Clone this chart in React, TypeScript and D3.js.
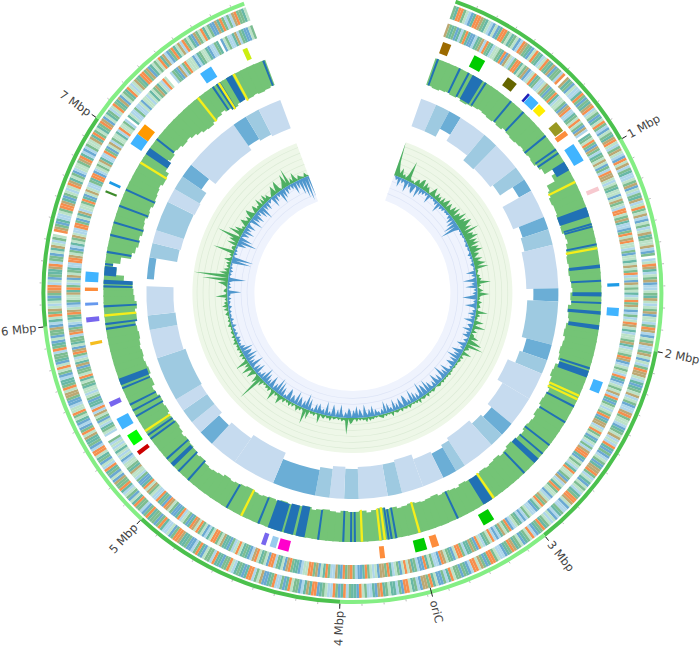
import React from 'react';
import * as d3 from 'd3';

const genomeLength = 7.862;
const ringBreaks = [0, 1, 2, 3, 4, 5, 6, 7, genomeLength];
const majorTicks = [1, 2, 3, 4, 5, 6, 7];
const oriC = 3.58;

// CDS rings, one letter per 12.5 kb window
const geneRingOuter = [
  'gtoogslbtooygtslbsbtoogstgsbloygtbsogtlsogtybgglo.ytgbslltogbgtyolsgbtsoglbsgtyo',
  'slgyslbosylgtllsgybslgtylsogsylbsglsytgssylbg.lsoytlsgybllsgtyslsgybsslgoylbsgyl',
  'lgysbslgoyysltbtgsylsgbllyogsslbtgsylslotbgblsgbtyyoglstbsgsltgooysbllgtlbslsgto',
  'gtblosgtbsgtyogtbllsgootbgysoolbtgbggsotlgbbstogyyblgtsoobglttsgtoybtllgsobttglo',
  'tbgollsgtbootytlbggsotbgllogtbbysglootbtgtlsoggbttolggsbtoglbbgttyoogbslltogbgg',
  'togblggotsbgsltoggybsbgtolsbgtsoolbgttysogblbtsgosslbbgyysogttlbgsosbtgglogtbsbg',
  'gybltsogyslstbgyoolsbgttyolggbstyslgs.oygbtllsgooytbgslsoytsgblssgyotlblgssytogs',
  'tgoybstglsogtybsgtoslsygtoogybtsgsotylbgotsylogstbygsotsgbbytoglglyoggts',
];

const geneRingInner = [
  'ygtgbtlgotbbltgylogtlssgtobyslgootsgyblsotgllsygbggotlssgbyolltgsosgbyl.tgsogbyg',
  'ltgsysbgloyyslsgtssbsygsloosgytllbgosyosslgbsstsysgolsbysgstlsogysblglsoystlssgy',
  'tlssgoyblsgslotblsgsylotbgslsgobtyylsogsbtslglyootbsgsltossgbylstogssblsygostbll',
  'sglbltgslbogsytlblosgtlsobgyttlgoosbtgsyobllgstobblgtysosbgsltogyybslsgotbblgoy',
  'gobtyllgotsbygoosslbttgoybstgloobsgtsoylbtgtsoslgbttysgoostlbsgosyotbgslotbbgsyo',
  'bgtollsgysotbbglssytgsslbslstslslg..lsgtlsbgsylolttbgslsstgstosggbytslgoybstgglo',
  'ygblstgoyslbgssytoglsbysgtllooysgbltsgyslloogbstylssgotbsysllgtooblsgsytllogbsy',
  'lgsstlossgl.tsllgllsbsslstsgytslos..lgtbylgosssbltgsstbllgt.bsglltylgtbbsg',
];

const geneColors: Record<string, string> = {
  o: '#f58f4e', g: '#7dbd91', t: '#68b8a6', b: '#6aa9d2',
  l: '#aed6ea', s: '#bce2c8', y: '#bca873',
};

// annotated regions: start, end, height, colour
const cogBlocks: [number, number, number, string][] = [
  [0.009, 0.055, 12, '#9c6a00'], [0.189, 0.253, 12.5, '#00cc00'], [0.4, 0.459, 10, '#666600'],
  [0.536, 0.55, 10, '#2020b8'], [0.553, 0.612, 10, '#40b4ff'], [0.619, 0.668, 9, '#ffee00'],
  [0.749, 0.808, 10, '#999922'], [0.814, 0.842, 13, '#fd8d3c'], [0.897, 1.0, 11, '#40b4ff'],
  [1.155, 1.179, 13, '#f7c9cf'], [1.679, 1.697, 12, '#1e9be6'], [1.811, 1.855, 12, '#40b4ff'],
  [2.214, 2.278, 10, '#40b4ff'], [3.155, 3.219, 12, '#00cc00'], [3.477, 3.516, 12, '#fd8d3c'],
  [3.543, 3.607, 12, '#00cc00'], [3.77, 3.797, 12, '#fd8d3c'], [4.285, 4.344, 11, '#ff00cc'],
  [4.354, 4.388, 11, '#99ccee'], [4.41, 4.435, 12, '#7766ee'], [5.239, 5.262, 13, '#cc0000'],
  [5.297, 5.361, 11, '#00ff00'], [5.4, 5.464, 13, '#40b4ff'], [5.534, 5.561, 12, '#7766ee'],
  [5.876, 5.893, 12, '#f5bd1f'], [5.999, 6.026, 13, '#7766ee'], [6.088, 6.103, 13, '#6699ee'],
  [6.165, 6.184, 13, '#fd8d3c'], [6.214, 6.268, 13, '#40b4ff'], [6.699, 6.711, 12, '#3d8b2b'],
  [6.749, 6.764, 12, '#1e9be6'], [6.988, 7.052, 13, '#40b4ff'], [7.052, 7.116, 13, '#ff9900'],
  [7.511, 7.58, 12, '#40b4ff'], [7.768, 7.795, 12, '#ccee11'],
];

// green track depth per window
const trackDepth = [
  28, 29, 28, 27, 28, 27, 29, 28, 27, 26, 27, 28, 27, 28, 26, 27, 28, 27, 26, 27,
  26, 27, 25, 23, 14, 18, 27, 29, 31, 30, 30, 31, 30, 31, 29, 28, 30, 31, 32, 31,
  32, 31, 30, 29, 31, 30, 33, 32, 31, 33, 34, 32, 33, 34, 33, 31, 34, 35, 33, 32,
  30, 31, 32, 30, 31, 29, 30, 31, 29, 30, 31, 32, 30, 29, 31, 30, 29, 30, 29, 28,
  29, 30, 28, 29, 30, 29, 31, 30, 29, 30, 31, 30, 29, 31, 30, 32, 31, 29, 31, 30,
  30, 31, 29, 30, 31, 30, 29, 31, 30, 28, 29, 30, 28, 29, 28, 27, 28, 29, 28, 27,
  26, 27, 25, 24, 23, 24, 26, 25, 27, 28, 29, 28, 30, 31, 30, 29, 31, 30, 31, 29,
  28, 31, 30, 32, 31, 30, 31, 30, 31, 32, 31, 30, 32, 31, 33, 31, 30, 29, 20, 12,
  8, 15, 25, 28, 30, 29, 31, 30, 29, 31, 30, 32, 31, 30, 29, 31, 30, 26, 22, 24,
  22, 23, 25, 24, 26, 28, 30, 31, 29, 28, 26, 28, 30, 28, 27, 29, 28, 29, 28, 27,
];

const blueLines = [
  0.015, 0.15, 0.206, 0.317, 0.494, 0.587, 0.771, 0.867, 0.892, 1.337, 1.351, 1.455, 1.663, 1.789,
  2.165, 2.398, 2.501, 2.658, 2.72, 2.87, 3.327, 3.693, 3.72, 3.737, 3.929, 3.951, 3.995, 4.138,
  4.489, 4.69, 4.958, 5.032, 5.128, 5.273, 5.3, 5.425, 5.462, 5.499, 5.602, 5.951, 5.978, 6.079,
  6.192, 6.319, 6.388, 6.486, 6.56, 6.659, 6.757, 7.093, 7.528, 7.555, 7.572, 7.85,
];

const blueRegions = [
  [0.231, 0.297], [0.951, 1.007], [1.236, 1.292], [1.57, 1.59], [1.728, 1.752], [1.835, 1.855],
  [1.915, 1.94], [2.18, 2.22], [2.755, 2.79], [3.103, 3.162], [4.216, 4.268], [4.283, 4.337],
  [4.349, 4.432], [5.07, 5.095], [5.62, 5.66], [6.205, 6.23], [6.253, 6.307], [6.988, 7.03],
  [7.615, 7.655],
];

const yellowLines = [
  1.081, 1.477, 2.332, 2.354, 3.093, 3.558, 3.759, 3.784, 3.889, 4.595, 5.327, 6.027, 6.931, 7.423,
  7.568, 7.666,
];

// windowed blocks: start, end, shade (0 light, 1 mid, 2 dark), height
const blueBlocks: [number, number, number, number][] = [
  [0, 0.11, 0, 29], [0.11, 0.21, 1, 29], [0.21, 0.3, 2, 20], [0.3, 0.5, 0, 27], [0.5, 0.61, 1, 33],
  [0.61, 0.81, 0, 32], [0.81, 0.91, 1, 29], [0.91, 1.0, 2, 14], [1.0, 1.2, 0, 33], [1.2, 1.29, 2, 27],
  [1.29, 1.4, 1, 29], [1.4, 1.7, 0, 32], [1.7, 1.79, 2, 25], [1.79, 2.09, 1, 31], [2.09, 2.2, 2, 26],
  [2.2, 2.3, 1, 29], [2.3, 2.49, 0, 37], [2.49, 2.7, 0, 31], [2.7, 2.8, 2, 26], [2.8, 2.9, 1, 29],
  [2.9, 3.13, 0, 33], [3.13, 3.2, 1, 30], [3.2, 3.3, 2, 27], [3.3, 3.45, 0, 29], [3.45, 3.6, 0, 34],
  [3.6, 3.7, 1, 32], [3.7, 3.9, 0, 32], [3.9, 4.0, 1, 30], [4.0, 4.1, 0, 32], [4.1, 4.2, 1, 29],
  [4.2, 4.5, 2, 26], [4.5, 4.8, 0, 33], [4.8, 5.0, 0, 29], [5.0, 5.11, 2, 25], [5.11, 5.2, 0, 29],
  [5.2, 5.3, 1, 29], [5.3, 5.39, 0, 29], [5.39, 5.7, 1, 30], [5.7, 5.9, 0, 28], [5.9, 6.0, 1, 28],
  [6.0, 6.2, 0, 27], [6.25, 6.4, 2, 7], [6.4, 6.5, 1, 28], [6.5, 6.59, 0, 29], [6.59, 6.8, 1, 29],
  [6.8, 6.9, 0, 30], [6.9, 7.0, 1, 29], [7.0, 7.1, 2, 23], [7.1, 7.5, 0, 31], [7.5, 7.6, 2, 26],
  [7.6, 7.7, 1, 28], [7.7, 7.862, 0, 30],
];
const blockShades = ['#c6dbef', '#9ecae1', '#6baed6'];

// GC skew above and below zero, base 36 digit per window
const skewUpRows = [
  'zf84a3526l42315738a2946315a428361837a295',
  '3a5c296e4b7fa6c3i4a8e3b6c2a6d3852a47c3e2',
  '3214253e241362c4231523412c25231a42d32614',
  '4a29f1i3521a3141321212112131212131232112',
  '3121412321513121241321412321512131432121',
  '3241523131412561h3241312315231431a214231',
  'a2g3142621415231524a3241c3152413172s4a21',
  '4a24c261e3141513142315231412312142131214',
  '2151624131c2143125a2q1z3a261425183142m14',
  '41b2a6o13f4a2415942617a4158243a172936214',
  '6a28c3147e3i162a415321521',
];
const skewDownRows = [
  '0142a1524c1638a13c1725141a1313251b152413',
  '2315281a2f3k6121312112123122124131214212',
  '1a2514e263c141528f1425c31428152b31642a15',
  '3812514a2516c283e1926a1413c182f41926d172',
  '3a2e18c1g4271a2e1629c15b172c153a1d261437',
  '1b3825d1592c4817a3614d2817c152e1635a2914',
  '1c2g3816a1e25819c241a2e1g3816d172b3f1824',
  '1c2914f271b2e38a1d2613142512413215121412',
  '21312412314133e2141315i2131413121k4m2141',
  '3121a3k2e1381c271a312e194c261b3f17291421',
  'c28152e3a1825162d192g2l3p1m',
];
const skewUp = Array.from(skewUpRows.join('')).map((c) => parseInt(c, 36));
const skewDown = Array.from(skewDownRows.join('')).map((c) => parseInt(c, 36));
const skewGridUp = [6, 12, 18, 24, 30];
const skewGridDown = [-7, -14, -20];

const deg = Math.PI / 180;
const angle = d3.scaleLinear().domain([0, genomeLength]).range([19.5 * deg, 339.5 * deg]);
const skewR = d3.scaleLinear().domain([-27, 35]).range([98, 160]);
const depthR = d3.scaleLinear().domain([0, 40]).range([249, 209]);
const blockR = d3.scaleLinear().domain([0, 40]).range([206, 166]);
const arc = d3.arc<any>();

const sector = (a: number, b: number, r0: number, r1: number) =>
  arc({ startAngle: angle(a), endAngle: angle(b), innerRadius: r0, outerRadius: r1 }) as string;

function GeneRing({ lines, r0, r1 }: { lines: string[]; r0: number; r1: number }) {
  const cells = lines.join('').split('');
  const w = genomeLength / cells.length;
  return (
    <g>
      {cells.map((c, i) =>
        c === '.' ? null : <path key={i} d={sector(i * w, (i + 1) * w, r0, r1)} fill={geneColors[c]} />
      )}
    </g>
  );
}

function Label({ pos, text }: { pos: number; text: string }) {
  const a = angle(pos) / deg;
  const right = a < 180;
  const x = 318 * Math.sin(angle(pos));
  const y = -318 * Math.cos(angle(pos));
  return (
    <text
      x={x}
      y={y}
      dy="0.35em"
      textAnchor={right ? 'start' : 'end'}
      transform={`rotate(${right ? a - 90 : a + 90} ${x} ${y})`}
      fontFamily="'DejaVu Sans', sans-serif"
      fontSize={11.5}
      fill="#444"
    >
      {text}
    </text>
  );
}

export default function App() {
  const depthStep = genomeLength / trackDepth.length;
  const depthAt = (p: number) => trackDepth[Math.min(trackDepth.length - 1, Math.floor(p / depthStep))];

  const skewArea = (values: number[]) =>
    d3
      .areaRadial<number>()
      .angle((_, i) => angle((i * genomeLength) / (values.length - 1)))
      .innerRadius(skewR(0))
      .outerRadius((d) => skewR(d))(values) as string;

  const radial = (p: number, r0: number, r1: number) => {
    const t = angle(p);
    return { x1: r0 * Math.sin(t), y1: -r0 * Math.cos(t), x2: r1 * Math.sin(t), y2: -r1 * Math.cos(t) };
  };

  return (
    <svg width={700} height={649} style={{ position: 'absolute', left: 0, top: 0, background: '#fff' }}>
      <g transform="translate(352.4,293)">
        {/* outer scale ring */}
        {ringBreaks.slice(0, -1).map((b, i) => (
          <path key={b} d={sector(b, ringBreaks[i + 1], 307, 311)} fill={i % 2 ? '#84ee84' : '#4bc14d'} />
        ))}
        {d3.range(0, genomeLength, 0.1).map((p) => (
          <line key={p} {...radial(p, 311, 313)} stroke="#aaa" strokeWidth={0.8} />
        ))}
        {majorTicks.map((p) => (
          <line key={p} {...radial(p, 311, 316)} stroke="#222" strokeWidth={1} />
        ))}
        <line {...radial(oriC, 305, 314)} stroke="#222" strokeWidth={1} />
        {majorTicks.map((p) => (
          <Label key={p} pos={p} text={`${p} Mbp`} />
        ))}
        <Label pos={oriC} text="oriC" />

        <GeneRing lines={geneRingOuter} r0={291} r1={305} />
        <GeneRing lines={geneRingInner} r0={272} r1={286} />

        {cogBlocks.map(([a, b, h, c]) => (
          <path key={a} d={sector(a, b, 261 - h / 2, 261 + h / 2)} fill={c} />
        ))}

        {/* green track with stripes */}
        {trackDepth.map((d, i) => (
          <path
            key={i}
            d={sector(i * depthStep, Math.min(genomeLength, (i + 1) * depthStep + 0.01), depthR(d), 249)}
            fill="#74c476"
          />
        ))}
        {blueRegions.map(([a, b]) => (
          <path key={a} d={sector(a, b, depthR(depthAt(a)), 249)} fill="#2171b5" />
        ))}
        {blueLines.map((p) => (
          <path key={p} d={sector(p - 0.006, p + 0.006, depthR(depthAt(p)), 249)} fill="#2171b5" />
        ))}
        {yellowLines.map((p) => (
          <path key={p} d={sector(p - 0.007, p + 0.007, depthR(depthAt(p)) - 1, 249)} fill="#f5ee1a" />
        ))}

        {blueBlocks.map(([a, b, s, h]) => (
          <path key={a} d={sector(a, b, blockR(h), 206)} fill={blockShades[s]} />
        ))}

        {/* GC skew */}
        <path d={sector(0, genomeLength, skewR(0), skewR(35))} fill="#eef7e8" />
        <path d={sector(0, genomeLength, skewR(-27), skewR(0))} fill="#eff3fd" />
        {skewGridUp.map((v) => (
          <path key={v} d={sector(0, genomeLength, skewR(v), skewR(v) + 0.7)} fill="#dcebd6" />
        ))}
        {skewGridDown.map((v) => (
          <path key={v} d={sector(0, genomeLength, skewR(v), skewR(v) + 0.7)} fill="#dde4f6" />
        ))}
        <path d={skewArea(skewUp)} fill="#4daf62" />
        <path d={skewArea(skewDown.map((v) => -v))} fill="#4f97cd" />
      </g>
    </svg>
  );
}
